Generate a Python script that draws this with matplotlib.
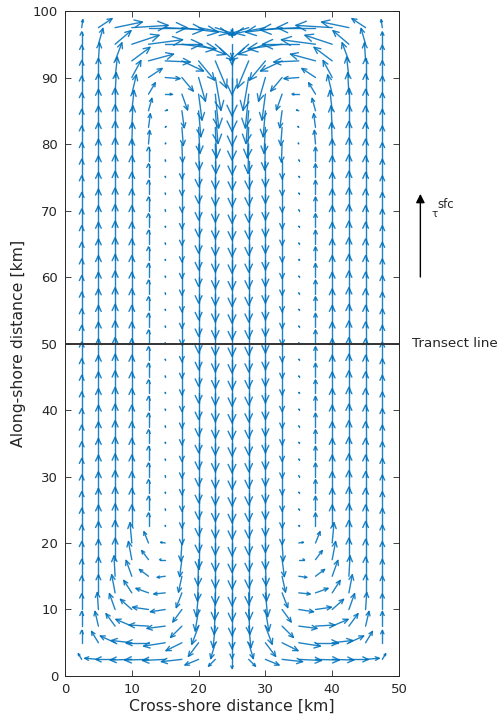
#import libraries
import numpy as np
import matplotlib
matplotlib.use("Agg")
import matplotlib.pyplot as plt
from matplotlib.collections import LineCollection

#Columns of the western half of the basin [km], the centre column is shared
x_half = [2.5, 5.0, 7.5, 10.0, 12.5, 15.0, 17.5, 20.0, 22.5, 25.0]

#Southern end, rows y = 2.5 ... 20 km (cross-shore u, along-shore v)
y_south = [2.5, 5.0, 7.5, 10.0, 12.5, 15.0, 17.5, 20.0]
u_south = [
    [-1.5, -6.0, -8.5, -9.5, -10.5, -10.0, -9.0, -6.0, -3.0, 0.0],
    [0.0, -3.0, -6.5, -9.0, -10.0, -9.5, -7.0, -4.5, -2.0, 0.0],
    [0.0, -1.5, -4.0, -7.0, -8.5, -8.0, -5.0, -3.0, -1.0, 0.0],
    [0.0, -0.5, -2.5, -5.0, -7.0, -6.5, -4.0, -1.5, -0.5, 0.0],
    [0.0, 0.0, -1.5, -3.5, -5.5, -5.0, -2.5, -1.0, -0.3, 0.0],
    [0.0, 0.0, -0.5, -2.5, -4.0, -3.5, -1.5, -0.5, 0.0, 0.0],
    [0.0, 0.0, 0.0, -1.5, -3.0, -2.5, -1.0, -0.3, 0.0, 0.0],
    [0.0, 0.0, 0.0, -0.8, -2.0, -2.0, -0.5, 0.0, 0.0, 0.0],
]
v_south = [
    [2.5, 0.5, 0.0, -0.3, -0.3, -0.5, -1.0, -2.5, -3.0, -4.0],
    [5.5, 5.0, 3.0, 1.0, 0.0, -1.5, -3.5, -6.0, -7.0, -7.0],
    [6.5, 6.5, 5.5, 3.0, 0.5, -1.0, -5.0, -8.0, -9.5, -10.0],
    [7.0, 7.5, 7.0, 4.5, 1.0, -1.0, -5.5, -9.5, -11.0, -11.5],
    [7.5, 8.0, 8.0, 5.5, 2.0, -0.5, -6.5, -10.5, -12.0, -12.5],
    [7.5, 8.5, 9.0, 7.0, 3.0, -0.5, -7.0, -11.0, -12.5, -13.0],
    [8.0, 9.0, 9.5, 8.0, 4.0, 0.0, -7.5, -11.5, -12.5, -13.0],
    [8.0, 9.5, 10.0, 9.0, 5.0, 0.3, -8.0, -11.5, -12.5, -13.0],
]

#Channel interior, rows y = 22.5 ... 77.5 km (flow is along-shore only)
y_mid = [22.5, 25.0, 27.5, 30.0, 32.5, 35.0, 37.5, 40.0, 42.5, 45.0, 47.5, 50.0,
         52.5, 55.0, 57.5, 60.0, 62.5, 65.0, 67.5, 70.0, 72.5, 75.0, 77.5]
u_mid = [0.0, 0.0, 0.0, 0.0, 0.0, 0.0, 0.0, 0.0, 0.0, 0.0]
v_mid = [8.0, 9.5, 10.0, 9.5, 6.0, 0.4, -8.0, -11.5, -12.5, -13.0]

#Northern end, rows y = 80 ... 97.5 km
y_north = [80.0, 82.5, 85.0, 87.5, 90.0, 92.5, 95.0, 97.5]
u_north = [
    [0.0, 0.0, 0.0, 0.3, 0.5, 0.2, 0.3, 0.3, 0.3, 0.0],
    [0.0, 0.0, 0.0, 0.5, 0.8, 0.4, 0.6, 0.6, 0.6, 0.0],
    [0.0, 0.0, 0.0, 1.0, 1.5, 1.0, 1.0, 1.0, 1.2, 0.0],
    [0.0, 0.0, 0.5, 2.0, 3.0, 3.0, 2.5, 1.5, 1.5, 0.0],
    [0.0, 0.0, 1.0, 4.0, 6.0, 6.5, 5.0, 3.0, 2.5, 0.0],
    [0.0, 0.5, 3.0, 8.0, 11.0, 11.0, 9.5, 7.0, 5.0, 0.0],
    [0.0, 2.0, 7.0, 12.0, 15.0, 16.0, 15.0, 12.0, 8.0, 0.0],
    [0.5, 6.0, 12.0, 16.0, 17.0, 17.0, 16.0, 13.0, 9.0, 0.0],
]
v_north = [
    [8.0, 9.5, 10.0, 9.5, 6.0, 0.4, -8.0, -11.5, -13.0, -13.5],
    [8.0, 9.5, 10.0, 9.5, 6.0, 0.4, -8.0, -11.5, -13.5, -14.5],
    [8.0, 9.5, 10.0, 9.0, 5.5, 0.3, -7.5, -11.5, -14.5, -15.5],
    [8.0, 9.0, 9.5, 8.5, 5.0, 0.0, -7.0, -11.5, -15.0, -16.5],
    [7.5, 8.5, 9.0, 7.5, 4.0, -0.5, -6.0, -10.5, -14.5, -17.0],
    [7.0, 8.0, 8.0, 6.0, 3.0, -0.5, -4.5, -8.5, -12.0, -15.0],
    [5.5, 7.0, 6.0, 4.0, 2.0, 0.0, -2.0, -4.5, -7.0, -9.0],
    [3.5, 4.0, 2.5, 1.0, 0.0, -1.0, -2.0, -2.5, -3.0, -4.0],
]

basin_width = 50.0
transect_y = 50.0
tau_x = 53.2
tau_span = (60.0, 72.5)

#arrow length [km] per unit of velocity, and arrow-head shape
SCALE = 0.34
ALPHA = 0.28
BETA = 0.47
BLUE = "#0072BD"


#Assemble the full field: the eastern half mirrors the western half
def build_field():
    rows_y = y_south + y_mid + y_north
    rows_u = u_south + [u_mid] * len(y_mid) + u_north
    rows_v = v_south + [v_mid] * len(y_mid) + v_north
    X, Y, U, V = [], [], [], []
    for y, us, vs in zip(rows_y, rows_u, rows_v):
        for i, x in enumerate(x_half):
            X.append(x); Y.append(y); U.append(us[i]); V.append(vs[i])
            if x < basin_width / 2:
                X.append(basin_width - x); Y.append(y); U.append(-us[i]); V.append(vs[i])
    return np.array(X), np.array(Y), np.array(U), np.array(V)


#Quiver with open arrow heads (shaft plus two barbs)
def open_quiver(ax, X, Y, U, V):
    dx = SCALE * U
    dy = SCALE * V
    tx = X + dx
    ty = Y + dy
    segs = []
    for k in range(len(X)):
        segs.append([(X[k], Y[k]), (tx[k], ty[k])])
        h1 = (tx[k] - ALPHA * (dx[k] + BETA * dy[k]), ty[k] - ALPHA * (dy[k] - BETA * dx[k]))
        h2 = (tx[k] - ALPHA * (dx[k] - BETA * dy[k]), ty[k] - ALPHA * (dy[k] + BETA * dx[k]))
        segs.append([h1, (tx[k], ty[k]), h2])
    lc = LineCollection(segs, colors=BLUE, linewidths=1.0, alpha=0.88,
                        capstyle="round", joinstyle="round")
    ax.add_collection(lc)


plt.rcParams["font.family"] = ["DejaVu Sans"]
dark = "#262626"

fig = plt.figure(figsize=(5.02, 7.24), dpi=100)
ax = fig.add_axes([0.1295, 0.0663, 0.6653, 0.9185])

X, Y, U, V = build_field()
open_quiver(ax, X, Y, U, V)

#transect line across the basin
ax.axhline(transect_y, color="#333333", lw=1.4, zorder=3)
ax.text(basin_width + 1.9, transect_y, "Transect line", fontsize=9.7, color=dark,
        va="center", ha="left", clip_on=False)

#wind stress arrow
ax.annotate("", xy=(tau_x, tau_span[1]), xytext=(tau_x, tau_span[0]),
            arrowprops=dict(arrowstyle="-|>", color="k", lw=1.0, mutation_scale=13,
                            shrinkA=0, shrinkB=0),
            annotation_clip=False)
ax.text(tau_x + 1.6, 69.4, "\u03c4", fontsize=7.5, color=dark,
        ha="left", va="center", clip_on=False)
ax.text(tau_x + 2.5, 70.9, "sfc", fontsize=8.5, color=dark,
        ha="left", va="center", clip_on=False)

ax.set_xlim(0, 50)
ax.set_ylim(0, 100)
ax.set_xticks([0, 10, 20, 30, 40, 50])
ax.set_yticks(range(0, 101, 10))
ax.tick_params(direction="in", length=4.5, width=0.6, colors=dark, labelsize=9.5,
               top=True, right=True, pad=5)
for sp in ax.spines.values():
    sp.set_color(dark)
    sp.set_linewidth(0.7)

ax.set_xlabel("Cross-shore distance [km]", fontsize=11.3, color=dark, labelpad=2)
ax.set_ylabel("Along-shore distance [km]", fontsize=11.3, color=dark, labelpad=5)

fig.savefig("out.png", dpi=100)
